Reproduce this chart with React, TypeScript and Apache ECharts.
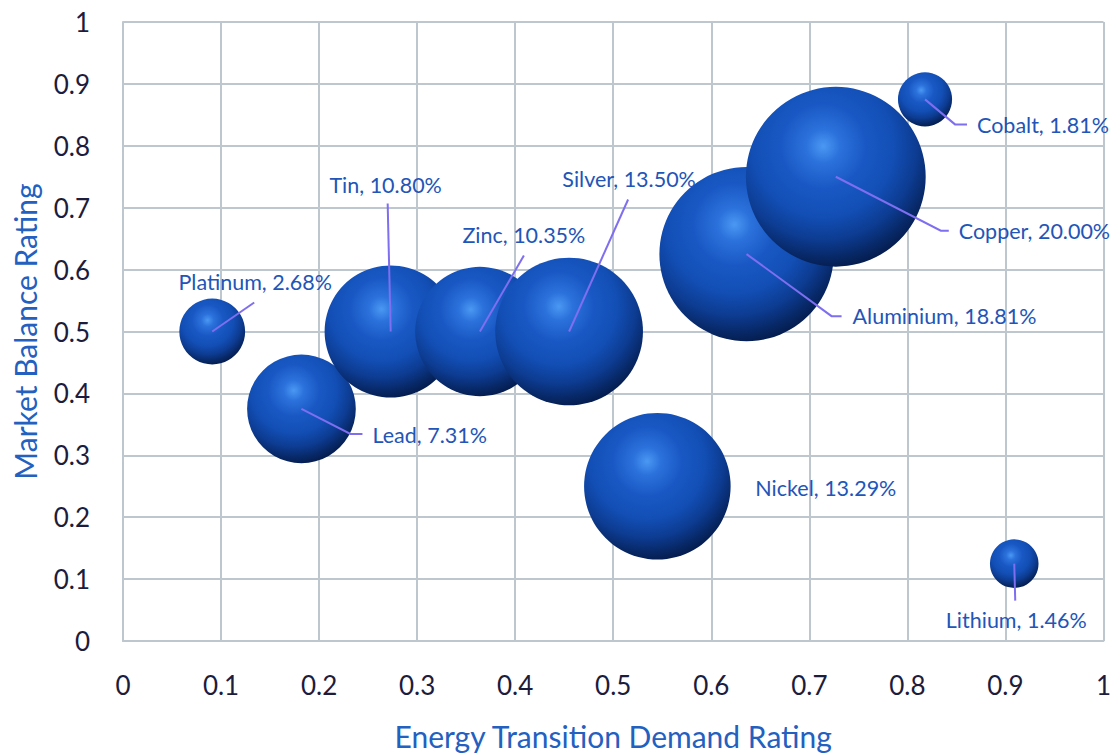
import React, { useEffect, useRef } from "react";
import * as echarts from "echarts";

const names = ["Platinum", "Lead", "Tin", "Zinc", "Silver", "Nickel", "Aluminium", "Copper", "Cobalt", "Lithium"];
const demandRating = [0.091, 0.182, 0.273, 0.364, 0.455, 0.545, 0.636, 0.727, 0.818, 0.909];
const balanceRating = [0.5, 0.375, 0.5, 0.5, 0.5, 0.25, 0.625, 0.75, 0.875, 0.125];
const sharePct = [2.68, 7.31, 10.8, 10.35, 13.5, 13.29, 18.81, 20.0, 1.81, 1.46];
const tickValues = [0, 0.1, 0.2, 0.3, 0.4, 0.5, 0.6, 0.7, 0.8, 0.9, 1];

// label layout (pixel offsets from bubble centre): leader line points and label anchor
type LabelLayout = { line: number[][]; lx: number; ly: number; align: string; va: string };
const labelLayouts: LabelLayout[] = [
  { line: [[42, -29]], lx: 43, ly: -50, align: "center", va: "middle" },
  { line: [[49, 25], [61, 25]], lx: 71, ly: 26, align: "left", va: "middle" },
  { line: [[-3, -128]], lx: -5, ly: -147, align: "center", va: "middle" },
  { line: [[44, -76]], lx: 44, ly: -97, align: "center", va: "middle" },
  { line: [[59, -132]], lx: 60, ly: -153, align: "center", va: "middle" },
  { line: [], lx: 98, ly: 2, align: "left", va: "middle" },
  { line: [[85, 62], [95, 62]], lx: 106, ly: 62, align: "left", va: "middle" },
  { line: [[105, 54], [113, 54]], lx: 123, ly: 54, align: "left", va: "middle" },
  { line: [[30, 25], [42, 25]], lx: 52, ly: 26, align: "left", va: "middle" },
  { line: [[1, 37]], lx: 2, ly: 56, align: "center", va: "middle" },
];

const FONT = "Lato, 'Noto Sans', sans-serif";

export default function App() {
  const ref = useRef<HTMLDivElement>(null);
  useEffect(() => {
    if (!ref.current) return;
    document.body.style.margin = "0";
    document.body.style.overflow = "hidden";
    const chart = echarts.init(ref.current, undefined, { renderer: "svg" });
    const sphere = new echarts.graphic.RadialGradient(0.43, 0.33, 0.72, [
      { offset: 0, color: "#4a98f3" },
      { offset: 0.13, color: "#2c72dc" },
      { offset: 0.33, color: "#1958c4" },
      { offset: 0.55, color: "#124eb4" },
      { offset: 0.72, color: "#0d3c92" },
      { offset: 0.87, color: "#072764" },
      { offset: 1, color: "#031640" },
    ]);
    const points = names.map((n, i) => [demandRating[i], balanceRating[i], sharePct[i]]);
    const gridColor = "#bec6ce";
    const fmt = (v: number) => String(tickValues.find((t) => Math.abs(t - v) < 1e-9) ?? v);
    chart.setOption({
      animation: false,
      grid: { left: 123, right: 9, top: 22, bottom: 115 },
      xAxis: {
        type: "value",
        min: 0,
        max: 1,
        interval: 0.1,
        name: "Energy Transition Demand Rating",
        nameLocation: "middle",
        nameGap: 80,
        nameTextStyle: { color: "#2360c0", fontSize: 30, fontFamily: FONT },
        axisLine: { show: true, lineStyle: { color: gridColor, width: 2 } },
        axisTick: { show: false },
        axisLabel: { color: "#1c1c3c", fontSize: 26, fontFamily: FONT, margin: 31, formatter: fmt },
        splitLine: { show: true, lineStyle: { color: gridColor, width: 2 } },
      },
      yAxis: {
        type: "value",
        min: 0,
        max: 1,
        interval: 0.1,
        name: "Market Balance Rating",
        nameLocation: "middle",
        nameGap: 83,
        nameTextStyle: { color: "#2360c0", fontSize: 30, fontFamily: FONT },
        axisLine: { show: true, lineStyle: { color: gridColor, width: 2 } },
        axisTick: { show: false },
        axisLabel: { color: "#1c1c3c", fontSize: 26, fontFamily: FONT, margin: 33, formatter: fmt },
        splitLine: { show: true, lineStyle: { color: gridColor, width: 2 } },
      },
      series: [
        {
          type: "scatter",
          data: points,
          symbolSize: (d: number[]) => 40.2 * Math.sqrt(d[2]),
          itemStyle: { color: sphere, opacity: 1 },
          z: 2,
        },
        {
          type: "custom",
          data: points,
          clip: false,
          z: 3,
          renderItem: (params: any, api: any) => {
            const i = params.dataIndex;
            const c = api.coord([api.value(0), api.value(1)]);
            const o = labelLayouts[i];
            const children: any[] = [];
            if (o.line.length) {
              children.push({
                type: "polyline",
                shape: { points: [[c[0], c[1]], ...o.line.map((p) => [c[0] + p[0], c[1] + p[1]])] },
                style: { stroke: "#7e6ef0", lineWidth: 2, fill: null },
              });
            }
            children.push({
              type: "text",
              style: {
                x: c[0] + o.lx,
                y: c[1] + o.ly,
                text: `${names[i]}, ${sharePct[i].toFixed(2)}%`,
                fill: "#2255b8",
                fontSize: 21.5,
                fontFamily: FONT,
                align: o.align,
                verticalAlign: o.va,
              },
            });
            return { type: "group", children };
          },
        },
      ],
    });
    return () => chart.dispose();
  }, []);
  return <div ref={ref} style={{ width: 1114, height: 756 }} />;
}
